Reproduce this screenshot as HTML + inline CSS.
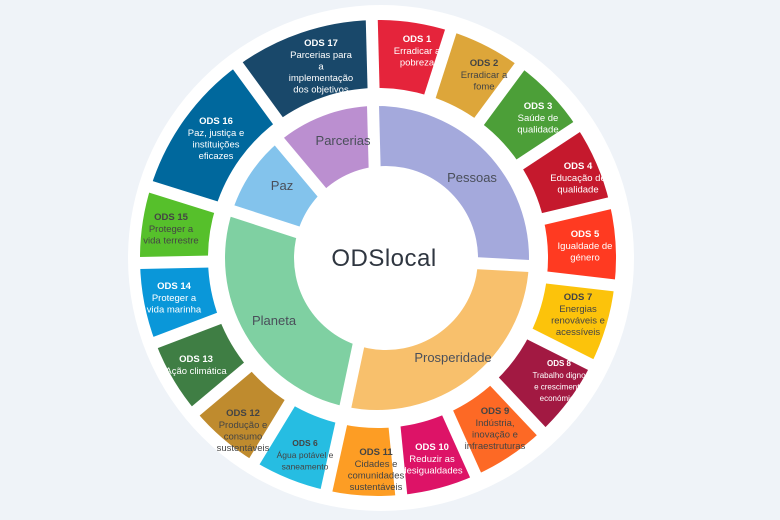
<!DOCTYPE html>
<html><head><meta charset="utf-8">
<style>
html,body{margin:0;padding:0;background:#eff3f8;}
svg{display:block;font-family:"Liberation Sans",sans-serif;}
</style></head><body>
<svg id="s" width="780" height="520" viewBox="0 0 780 520" xmlns="http://www.w3.org/2000/svg">
<rect width="780" height="520" fill="#eff3f8"/>
<circle cx="381" cy="258" r="253" fill="#fff"/>
<g id="segs"></g>
<g id="gaps" stroke="#fff" stroke-width="12"></g>
<circle cx="386" cy="258" r="92" fill="#fff"/>
<g id="labels" text-anchor="middle" font-size="9.5"></g>
<text x="384" y="266" font-size="24" fill="#2f3640" text-anchor="middle" letter-spacing="0.5">ODSlocal</text>
</svg>
<script>
var cx=378,cy=258,NS="http://www.w3.org/2000/svg";
function pt(r,a){a=a*Math.PI/180;return [cx+r*Math.sin(a),cy-r*Math.cos(a)];}
function sector(r0,r1,a0,a1,fill){
 var p1=pt(r1,a0),p2=pt(r1,a1),p3=pt(r0,a1),p4=pt(r0,a0),l=(a1-a0)>180?1:0;
 var d="M"+p1+"A"+r1+","+r1+" 0 "+l+" 1 "+p2+"L"+p3+"A"+r0+","+r0+" 0 "+l+" 0 "+p4+"Z";
 var e=document.createElementNS(NS,"path");e.setAttribute("d",d);e.setAttribute("fill",fill);
 document.getElementById("segs").appendChild(e);
}
function gap(a,r0,r1){var p=pt(r0,a),q=pt(r1,a);var e=document.createElementNS(NS,"line");
 e.setAttribute("x1",p[0]);e.setAttribute("y1",p[1]);e.setAttribute("x2",q[0]);e.setAttribute("y2",q[1]);
 document.getElementById("gaps").appendChild(e);}
var ob=[-1.5,17.8,36.5,56.6,76.7,96.6,116.6,136.7,155.8,174.4,192.5,211.3,230,249.2,268.8,287.4,323.9,358.5];
var oc=["#e5243b","#dda63a","#4c9f38","#c5192d","#ff3a21","#fcc30b","#a21942","#fd6925","#dd1367","#fd9d24","#26bde2","#bf8b2e","#3f7e44","#0a97d9","#56c02b","#00689d","#19486a"];
for(var i=0;i<17;i++){sector(170,238,ob[i],ob[i+1],oc[i]);gap(ob[i],160,245);}
var ib=[-1.5,93,192,288,320,358.5];
var ic=["#a4a9dc","#f8c06c","#7fd0a2","#83c3ec","#bb8fd0"];
cx=377;
for(i=0;i<5;i++){sector(80,152,ib[i],ib[i+1],ic[i]);gap(ib[i],70,162);}
var W="#fff",D="#444";
var L=[
[417,42,W,"ODS 1",["Erradicar a","pobreza"]],
[484,66,D,"ODS 2",["Erradicar a","fome"]],
[538,109,W,"ODS 3",["Saúde de","qualidade"]],
[578,169,W,"ODS 4",["Educação de","qualidade"]],
[585,237,W,"ODS 5",["Igualdade de","género"]],
[578,300,D,"ODS 7",["Energias","renováveis e","acessíveis"]],
[559,366,W,"ODS 8",["Trabalho digno","e crescimento","económico"],8],
[495,414,D,"ODS 9",["Indústria,","inovação e","infraestruturas"]],
[432,450,W,"ODS 10",["Reduzir as","desigualdades"]],
[376,455,D,"ODS 11",["Cidades e","comunidades","sustentáveis"]],
[305,446,D,"ODS 6",["Água potável e","saneamento"],8.5],
[243,416,D,"ODS 12",["Produção e","consumo","sustentáveis"]],
[196,362,W,"ODS 13",["Ação climática"]],
[174,289,W,"ODS 14",["Proteger a","vida marinha"]],
[171,220,D,"ODS 15",["Proteger a","vida terrestre"]],
[216,124,W,"ODS 16",["Paz, justiça e","instituições","eficazes"]],
[321,46,W,"ODS 17",["Parcerias para","a","implementação","dos objetivos"]]
];
var g=document.getElementById("labels"),h="";
L.forEach(function(o){var fs=o[5]||9.5;
 h+='<text x="'+o[0]+'" y="'+o[1]+'" fill="'+o[2]+'" font-weight="bold" font-size="'+fs+'">'+o[3]+'</text>';
 o[4].forEach(function(t,k){h+='<text x="'+o[0]+'" y="'+(o[1]+12+k*11.5)+'" fill="'+o[2]+'" font-size="'+fs+'">'+t+'</text>';});
});
var I=[[472,182,"Pessoas"],[453,362,"Prosperidade"],[274,325,"Planeta"],[282,190,"Paz"],[343,145,"Parcerias"]];
I.forEach(function(o){h+='<text x="'+o[0]+'" y="'+o[1]+'" fill="#4a4f5a" font-size="13">'+o[2]+'</text>';});
g.innerHTML=h;
</script>
</body></html>
